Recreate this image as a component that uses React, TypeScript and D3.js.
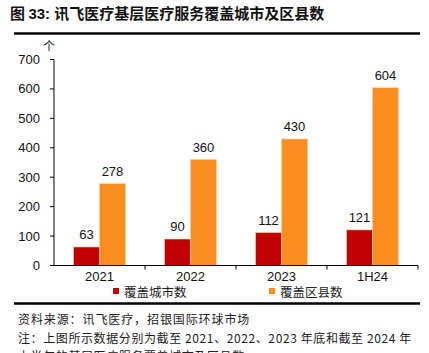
import * as d3 from "d3";

// 覆盖城市数 / 覆盖区县数 by period
const periods = ["2021", "2022", "2023", "1H24"];
const cityCounts = [63, 90, 112, 121];
const countyCounts = [278, 360, 430, 604];
const yTicks = [0, 100, 200, 300, 400, 500, 600, 700];
const seriesNames = ["覆盖城市数", "覆盖区县数"];
const seriesColors = ["#C00000", "#F98E1F"];

const W = 429;
const H = 353;
const plot = { left: 54, right: 418, top: 59.5, bottom: 265.5 };
const latin = "'Liberation Sans', Arial, sans-serif";
const cjk = "'Noto Sans CJK SC', 'Liberation Sans', sans-serif";

export default function App() {
  const x = d3.scaleBand<string>().domain(periods).range([plot.left, plot.right]).padding(0);
  const y = d3.scaleLinear().domain([0, 700]).range([plot.bottom, plot.top]);
  const barW = 26;
  const sub = d3.scaleBand<number>().domain([0, 1]).range([-barW, barW]).padding(0);
  const series = [cityCounts, countyCounts];

  return (
    <svg width={W} height={H} style={{ position: "fixed", left: 0, top: 0, background: "#fff" }}>
      {/* title */}
      <text x={10} y={19} fontSize={15} fontWeight="bold" fill="#111">
        <tspan fontFamily={cjk}>图 </tspan>
        <tspan fontFamily={latin}>33: </tspan>
        <tspan fontFamily={cjk}>讯飞医疗基层医疗服务覆盖城市及区县数</tspan>
      </text>
      <line x1={14} x2={420} y1={33.5} y2={33.5} stroke="#000" strokeWidth={2.5} />

      {/* unit */}
      <text x={49} y={51} fontSize={12} fontFamily={cjk} textAnchor="middle" fill="#222">个</text>

      {/* y axis */}
      <line x1={plot.left} x2={plot.left} y1={plot.top} y2={plot.bottom} stroke="#000" />
      {yTicks.map((t) => (
        <g key={t}>
          <line x1={plot.left - 4} x2={plot.left} y1={y(t)} y2={y(t)} stroke="#000" />
          <text x={40} y={y(t)} dy="0.35em" textAnchor="end" fontSize={13} fontFamily={latin} fill="#111">
            {t}
          </text>
        </g>
      ))}

      {/* bars */}
      {periods.map((p, i) => {
        const cx = (x(p) ?? 0) + x.bandwidth() / 2;
        return (
          <g key={p}>
            {series.map((s, k) => {
              const bx = cx + (sub(k) ?? 0);
              const v = s[i];
              return (
                <g key={k}>
                  <rect
                    x={bx}
                    y={y(v)}
                    width={sub.bandwidth()}
                    height={plot.bottom - y(v)}
                    fill={seriesColors[k]}
                    stroke="#fbd0b0"
                    strokeWidth={0.6}
                  />
                  <text
                    x={bx + sub.bandwidth() / 2}
                    y={y(v) - 8}
                    textAnchor="middle"
                    fontSize={13}
                    fontFamily={latin}
                    fill="#111"
                  >
                    {v}
                  </text>
                </g>
              );
            })}
            <text x={cx} y={281} textAnchor="middle" fontSize={13} fontFamily={latin} fill="#111">
              {p}
            </text>
          </g>
        );
      })}

      {/* x axis */}
      <line x1={plot.left} x2={plot.right} y1={plot.bottom} y2={plot.bottom} stroke="#000" />
      {periods.map((p) => (
        <line
          key={p}
          x1={(x(p) ?? 0) + x.bandwidth()}
          x2={(x(p) ?? 0) + x.bandwidth()}
          y1={plot.bottom}
          y2={plot.bottom + 4}
          stroke="#000"
        />
      ))}

      {/* legend */}
      {seriesNames.map((n, k) => {
        const lx = k === 0 ? 113 : 269;
        return (
          <g key={n}>
            <rect x={lx} y={288} width={6} height={6} fill={seriesColors[k]} />
            <text x={lx + 11} y={297} fontSize={12.5} fontFamily={cjk} fill="#222">
              {n}
            </text>
          </g>
        );
      })}

      <line x1={14} x2={420} y1={303.5} y2={303.5} stroke="#000" strokeWidth={2.5} />

      {/* notes */}
      <text x={18} y={323.5} fontSize={12} fontFamily={cjk} fill="#222" letterSpacing={0.9}>
        资料来源：讯飞医疗，招银国际环球市场
      </text>
      <text x={18} y={342.5} fontSize={12} fontFamily={cjk} fill="#222" letterSpacing={0.6}>
        注：上图所示数据分别为截至 2021、2022、2023 年底和截至 2024 年
      </text>
      <text x={18} y={361} fontSize={12} fontFamily={cjk} fill="#222" letterSpacing={0.6}>
        上半年的基层医疗服务覆盖城市及区县数
      </text>
    </svg>
  );
}
